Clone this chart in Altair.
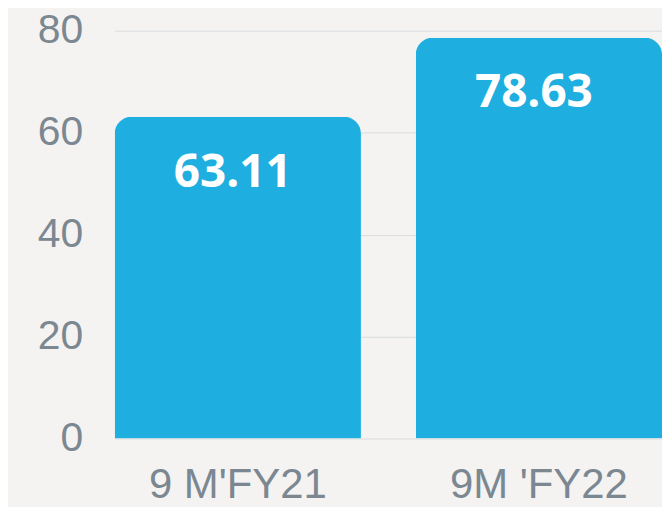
import altair as alt
import pandas as pd

categories = ["9 M'FY21", "9M 'FY22"]
values = [63.11, 78.63]
labels = ["63.11", "78.63"]

df = pd.DataFrame({"cat": categories, "val": values, "lab": labels})

x = alt.X("cat:N", sort=categories, title=None,
          scale=alt.Scale(paddingInner=0.182, paddingOuter=0),
          axis=alt.Axis(labelAngle=0, labelFont="Liberation Sans", labelFontSize=42,
                        labelColor="#7b8791", labelPadding=26, ticks=False,
                        domain=False))
y = alt.Y("val:Q", title=None, scale=alt.Scale(domain=[0, 80], nice=False),
          axis=alt.Axis(values=[0, 20, 40, 60, 80], labelFont="Liberation Sans",
                        labelFontSize=41, labelColor="#7b8791", labelPadding=32,
                        ticks=False, domain=False, gridColor="#d9dcdf",
                        gridWidth=1))

bars = alt.Chart(df).mark_bar(color="#1eaee0", cornerRadiusTopLeft=17,
                              cornerRadiusTopRight=17).encode(x=x, y=y)
text = alt.Chart(df).mark_text(color="white", font="Open Sans", fontWeight="bold",
                               fontSize=46, baseline="middle", dy=56, dx=-5).encode(
    x=alt.X("cat:N", sort=categories), y="val:Q", text="lab:N")

chart = (bars + text).properties(
    width=549, height=409,
    autosize=alt.AutoSizeParams(type="none"),
    padding={"left": 107, "top": 22, "right": 0, "bottom": 70},
    background="#f4f3f1",
).configure_view(stroke=None)

chart.save("out.html", embed_options={"renderer": "svg", "actions": False})
